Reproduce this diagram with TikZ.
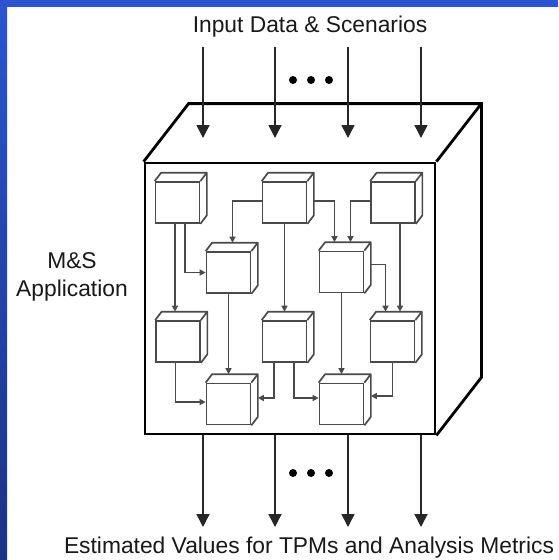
\documentclass[tikz,border=0pt]{standalone}
\usepackage{fontspec}
\setmainfont{Liberation Sans}
\usetikzlibrary{arrows.meta, positioning}
\definecolor{frameblue}{HTML}{2C54CE}
\definecolor{framedark}{HTML}{1B3383}
\definecolor{modgray}{HTML}{4A4A4A}

\tikzset{
    modbox/.style={draw=modgray, line width=1.7pt, fill=white, inner sep=0pt,
        minimum width=44pt, minimum height=41pt},
    modline/.style={draw=modgray, line width=1.7pt, line join=round},
    conn/.style={draw=modgray, line width=1.4pt, -{Triangle[length=6pt, width=6pt]}},
    bigarrow/.style={draw=black!85, line width=1.5pt, -{Triangle[length=13pt, width=13pt]}},
    appbox/.style={draw=black, line width=2.8pt, fill=white, inner sep=0pt,
        minimum width=290pt, minimum height=271pt},
    applabel/.style={font=\fontsize{22.8}{28}\selectfont, text=black!90}
}

\begin{document}
\begin{tikzpicture}[x=1pt, y=-1pt]
    \useasboundingbox (0,0) rectangle (558,560);
    \fill[white] (0,0) rectangle (558,560);
    \shade[top color=frameblue, bottom color=framedark] (0,0) rectangle (7,560);
    \fill[frameblue] (0,0) rectangle (558,7);

    % the application box
    \node[appbox] (app) at (290,298.5) {};
    \draw[black, line width=2.8pt, line join=miter]
        (app.north west) -- ++(45,-58) -| ([shift={(45,-58)}]app.south east) -- (app.south east)
        (app.north east) -- ++(45,-58);

    % modules
    \node[modbox] (a) at (177.5,202.5) {};
    \node[modbox] (b) at (284.5,202.5) {};
    \node[modbox] (c) at (393,202.5) {};
    \node[modbox] (d) at (228.5,272.5) {};
    \node[modbox] (e) at (341.5,272) {};
    \node[modbox] (f) at (178,341.5) {};
    \node[modbox] (g) at (284.5,341.5) {};
    \node[modbox] (h) at (392.5,341.5) {};
    \node[modbox] (i) at (228.5,404) {};
    \node[modbox] (j) at (341.5,404) {};
    \foreach \m in {a,b,c,d,e,f,g,h,i,j}{
        \draw[modline] (\m.north west) -- ++(6.5,-8.5) -| ([shift={(6.5,-8.5)}]\m.south east) -- (\m.south east)
            (\m.north east) -- ++(6.5,-8.5);
    }

    % links between modules
    \draw[conn] ([xshift=-2.5pt]a.south) -- ([xshift=-2.5pt, yshift=8.5pt]a.south |- f.north);
    \draw[conn] ([xshift=7.5pt]a.south) |- (d.west);
    \draw[conn] ([yshift=1.5pt]b.west) -| ([xshift=4pt, yshift=8.5pt]d.north);
    \draw[conn] (b.south) -- ([yshift=8.5pt]g.north);
    \draw[conn] ([xshift=6.5pt, yshift=1.5pt]b.east) -| ([xshift=-7pt, yshift=8.5pt]e.north);
    \draw[conn] ([yshift=1.5pt]c.west) -| ([xshift=9pt, yshift=8.5pt]e.north);
    \draw[conn] ([xshift=7pt]c.south) -- ([xshift=7.5pt, yshift=8.5pt]h.north);
    \draw[conn] ([xshift=6.5pt, yshift=7.5pt]e.east) -| ([xshift=-7pt, yshift=8.5pt]h.north);
    \draw[conn] (d.south) -- ([yshift=8.5pt]i.north);
    \draw[conn] (e.south) -- ([yshift=8.5pt]j.north);
    \draw[conn] ([xshift=-2.5pt]f.south) |- ([yshift=2pt]i.west);
    \draw[conn] ([xshift=-10.5pt]g.south) |- ([xshift=6.5pt, yshift=6pt]i.east);
    \draw[conn] ([xshift=9.5pt]g.south) |- ([yshift=6pt]j.west);
    \draw[conn] (h.south) |- ([xshift=6.5pt, yshift=8pt]j.east);

    % inputs and outputs
    \node[applabel, anchor=base] (inlabel) at (310,32) {Input Data \& Scenarios};
    \node[applabel, anchor=base] (outlabel) at (309,553) {Estimated Values for TPMs and Analysis Metrics};
    \node[applabel, align=center] (mslabel) at (72,277) {M\&S\\Application};
    \coordinate (intop) at (0,47);
    \coordinate (intip) at (0,138);
    \coordinate (outtip) at (0,527);
    \foreach \x [count=\k] in {203,275,348,421}{
        \coordinate (in\k) at (\x,47);
        \draw[bigarrow] (in\k) -- (in\k |- intip);
        \draw[bigarrow] (app.south -| in\k) -- (in\k |- outtip);
    }
    \foreach \x in {293,311,329}{
        \fill (\x,80) circle (4);
        \fill (\x,473) circle (4);
    }
\end{tikzpicture}
\end{document}
